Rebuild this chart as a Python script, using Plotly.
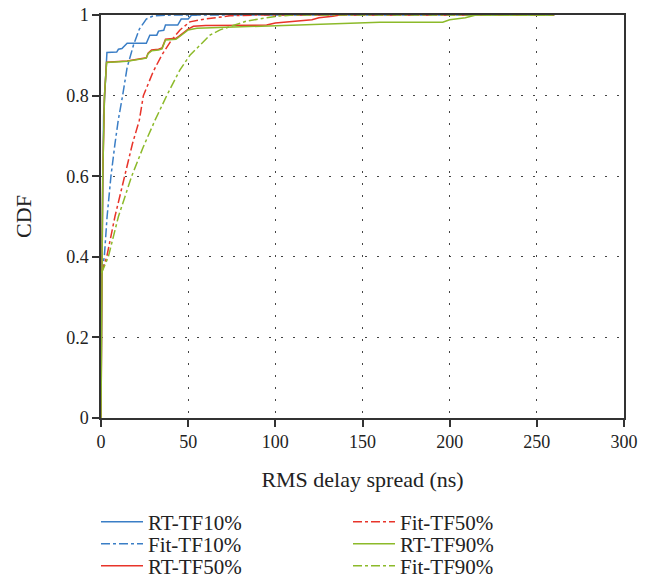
import plotly.graph_objects as go

# ---------------- data ----------------
rt10_x = [0, 0.5, 1.5, 3.4, 9, 10, 12, 14, 15, 26, 28, 32, 33, 36, 37, 44, 46, 50, 52, 55]
rt10_y = [0, 0.40, 0.75, 0.907, 0.908, 0.915, 0.917, 0.925, 0.93, 0.93, 0.95, 0.95, 0.96, 0.962, 0.975, 0.975, 0.99, 0.99, 1.0, 1.0]

fit10_x = [0.3, 1.9, 3.5, 5.7, 8, 9.9, 12.4, 15, 18.6, 22, 26, 30, 40, 260]
fit10_y = [0.36, 0.40, 0.5, 0.6, 0.68, 0.739, 0.8, 0.87, 0.925, 0.965, 0.99, 0.998, 1.0, 1.0]

rt50_x = [0, 0.5, 1, 2, 3.2, 15, 26, 27, 29, 33, 35, 37, 43, 45, 47, 50, 53, 60, 95, 100, 121, 125, 133, 137, 140]
rt50_y = [0, 0.35, 0.6, 0.8, 0.883, 0.886, 0.894, 0.905, 0.913, 0.915, 0.918, 0.94, 0.942, 0.948, 0.955, 0.965, 0.972, 0.974, 0.975, 0.98, 0.988, 0.993, 0.997, 1.0, 1.0]

fit50_x = [0.3, 3.3, 8, 13.4, 18, 22, 24.3, 30, 34.8, 40, 45.3, 51, 59.7, 74, 90, 260]
fit50_y = [0.36, 0.40, 0.5, 0.6, 0.68, 0.739, 0.8, 0.86, 0.9, 0.935, 0.963, 0.983, 0.99, 0.998, 1.0, 1.0]

rt90_x = [0, 0.5, 1, 2, 3.2, 15, 26, 27, 29, 33, 35, 37, 43, 45, 47, 50, 55, 75, 100, 150, 160, 196, 200, 209, 215, 260]
rt90_y = [0, 0.35, 0.6, 0.8, 0.882, 0.885, 0.893, 0.904, 0.911, 0.913, 0.916, 0.938, 0.940, 0.946, 0.953, 0.963, 0.967, 0.970, 0.973, 0.980, 0.982, 0.982, 0.988, 0.993, 1.0, 1.0]

fit90_x = [0.3, 4.2, 10, 17.6, 24, 31, 37.7, 45.3, 51, 62.5, 68.3, 83.6, 100.8, 110, 260]
fit90_y = [0.36, 0.40, 0.5, 0.6, 0.67, 0.739, 0.8, 0.864, 0.9, 0.95, 0.963, 0.985, 0.997, 1.0, 1.0]

x_ticks = [0, 50, 100, 150, 200, 250, 300]
y_ticks = [0, 0.2, 0.4, 0.6, 0.8, 1.0]
y_tick_text = ["0", "0.2", "0.4", "0.6", "0.8", "1"]

BLUE = "#3a7ec6"
RED = "#e8342a"
GREEN = "#8cba2a"
FONT = "Liberation Serif"
TXT = "#222"

series = [
    ("RT-TF10%", rt10_x, rt10_y, BLUE, "solid"),
    ("Fit-TF10%", fit10_x, fit10_y, BLUE, "dashdot"),
    ("RT-TF50%", rt50_x, rt50_y, RED, "solid"),
    ("Fit-TF50%", fit50_x, fit50_y, RED, "dashdot"),
    ("RT-TF90%", rt90_x, rt90_y, GREEN, "solid"),
    ("Fit-TF90%", fit90_x, fit90_y, GREEN, "dashdot"),
]

# legend layout: two columns of three rows (column-major)
PLOT_L, PLOT_R, PLOT_T, PLOT_B = 101, 624, 15, 418
W = PLOT_R - PLOT_L
H = PLOT_B - PLOT_T
col_px = [96, 348]
row_px = [522, 544, 566]

fig = go.Figure()
layout_legends = {}
for i, (name, xs, ys, col, dash) in enumerate(series):
    key = "legend" if i == 0 else f"legend{i + 1}"
    fig.add_trace(go.Scatter(
        x=xs, y=ys, name=name, mode="lines",
        line=dict(color=col, width=1.5, dash=dash),
        legend=key,
    ))
    c, r = divmod(i, 3)
    layout_legends[key] = dict(
        orientation="v", xanchor="left", yanchor="middle",
        x=(col_px[c] - PLOT_L) / W, y=(PLOT_B - row_px[r]) / H,
        font=dict(family=FONT, size=21, color=TXT),
        bgcolor="rgba(0,0,0,0)", itemwidth=42,
    )

fig.update_layout(
    width=652, height=580,
    margin=dict(l=PLOT_L, r=652 - PLOT_R, t=PLOT_T, b=580 - PLOT_B, autoexpand=False),
    paper_bgcolor="white", plot_bgcolor="white",
    font=dict(family=FONT, size=18, color=TXT),
    showlegend=True,
    **layout_legends,
)

axis_common = dict(
    showline=True, linecolor="#333", linewidth=1.5, mirror=True,
    ticks="outside", ticklen=7, tickcolor="#333", tickwidth=1.5,
    showgrid=True, gridcolor="#444", gridwidth=1, griddash="2px,10px",
    zeroline=False, automargin=False,
    tickfont=dict(family=FONT, size=18, color=TXT),
)

fig.update_xaxes(
    range=[0, 300], tickvals=x_ticks, ticktext=[str(v) for v in x_ticks],
    title=dict(text="RMS delay spread (ns)", font=dict(family=FONT, size=22, color=TXT), standoff=20),
    **axis_common,
)
fig.update_yaxes(
    range=[0, 1], tickvals=y_ticks, ticktext=y_tick_text,
    title=dict(text="CDF", font=dict(family=FONT, size=22, color=TXT), standoff=28),
    **axis_common,
)

fig.write_html("out.html")
